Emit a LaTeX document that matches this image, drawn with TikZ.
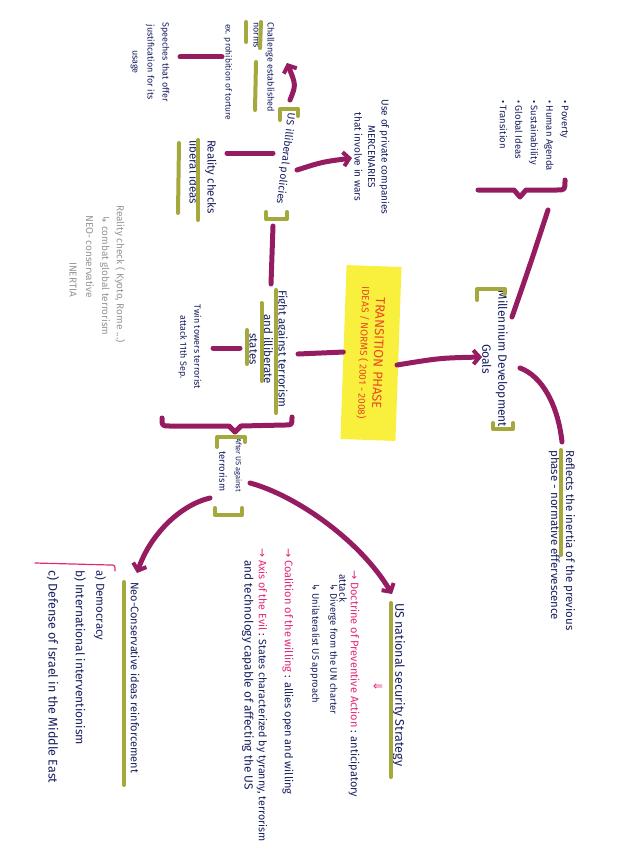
\documentclass[tikz,border=0pt]{standalone}
\usepackage{fontspec}
\setmainfont{Fira Sans}
\newfontfamily\symf{DejaVu Sans}
\usetikzlibrary{arrows.meta}
\definecolor{mkc}{RGB}{150,28,98}
\definecolor{grc}{RGB}{165,168,60}
\definecolor{navy}{RGB}{24,32,95}
\definecolor{redc}{RGB}{232,72,40}
\definecolor{pinkc}{RGB}{226,40,120}
\definecolor{yelc}{RGB}{248,240,60}
\definecolor{grayc}{RGB}{150,150,150}
\newcommand\hwsize[2]{\fontsize{#1}{#2}\selectfont}
\begin{document}
\begin{tikzpicture}[x=1pt,y=-1pt,
  hw/.style={inner sep=0pt, text=navy},
  txt/.style={hw, rotate=-90},
  mk/.style={draw=mkc, line width=5pt, line cap=round, line join=round},
  gr/.style={draw=grc, line width=4pt, line cap=round, line join=round},
  arr/.style={mk, -{Straight Barb[length=6pt,width=14pt,line width=4pt]}},
  thinpink/.style={draw=pinkc, line width=1.2pt, line cap=round}]
\useasboundingbox (0,0) rectangle (622,848);
\fill[white] (0,0) rectangle (622,848);

% ---------- top-left group ----------
\node[txt, anchor=west, align=left, font={\hwsize{9}{14}}] (chal) at (264,22) {Challenge established\\norms};
\node[txt, anchor=west, font={\hwsize{8.5}{8.5}}] (tort) at (228,24) {ex. prohibition of torture};
\node[txt, anchor=west, align=center, font={\hwsize{9}{15}}] (speech) at (150,22) {Speeches that offer\\justification for its\\usage};
\node[hw, rotate=-97, anchor=west, font={\hwsize{10.5}{10.5}}] (illib) at (291,113) {US illiberal policies};
\node[txt, anchor=west, align=left, font={\hwsize{11.5}{18}}] (real) at (203,140) {Reality checks\\liberal ideas};
\node[txt, anchor=center, align=center, font={\hwsize{10}{13.5}}] (priv) at (372,157) {Use of private companies\\MERCENARIES\\that involve in wars};

\draw[gr] (261,22) -- (260,48);
\draw[gr] (256,62) -- (255,110);
\draw[gr] (246,22) -- (246,42);
\draw[gr] (280,120) -- (280,109) -- (298,109) -- (298,116);
\draw[gr] (266,212) -- (266,219) -- (287,219) -- (287,212);
\draw[gr] (198,140) -- (198,220);
\draw[gr] (179,143) -- (178,213);

\coordinate (d1a) at (180,57); \coordinate (d1b) at (222,57);
\draw[mk] (d1a) -- (d1b);
\coordinate (a1s) at (290,100); \coordinate (a1e) at (287,63);
\draw[arr] (a1s) .. controls (296,85) .. (a1e);
\coordinate (d2a) at (227,153); \coordinate (d2b) at (273,153);
\draw[mk] (d2a) -- (d2b);
\coordinate (a2s) at (297,170); \coordinate (a2e) at (352,158);
\draw[arr] (a2s) .. controls (322,162) .. (a2e);

% ---------- centre ----------
\node[txt, anchor=center, align=center, font={\hwsize{11.5}{14.5}}] (fight) at (268.5,349) {Fight against terrorism\\and illiberate\\states};
\node[txt, anchor=center, align=center, font={\hwsize{9}{14}}] (twin) at (190,347) {Twin towers terrorist\\attack 11th Sep.};
\draw[gr] (276,290) -- (276,413);
\draw[gr] (261.5,303) -- (261.5,381);
\draw[gr] (247,330) -- (247,364);
\coordinate (l3a) at (273,226); \coordinate (l3b) at (271,284);
\draw[mk] (l3a) -- (l3b);
\coordinate (d3a) at (213,348); \coordinate (d3b) at (240,348);
\draw[mk] (d3a) -- (d3b);

\node[rotate=-92, fill=yelc, minimum width=174pt, minimum height=55pt, inner sep=0pt, align=center, text=redc, font={\hwsize{10}{14}}] (box) at (371,353) {{\hwsize{13}{14}TRANSITION PHASE}\\IDEAS / NORMS ( 2001 - 2008)};
\coordinate (l4a) at (298,354);
\draw[mk] (l4a) -- (box.south);
\coordinate (a3s) at (397,365); \coordinate (a3e) at (482,357);
\draw[arr] (a3s) .. controls (440,358) .. (a3e);

% ---------- right ----------
\node[txt, anchor=center, align=center, font={\hwsize{12}{16}}] (mdg) at (495,359) {Millennium Development\\Goals};
\draw[gr] (477,300) -- (477,289) -- (505,289) -- (505,294);
\draw[gr] (493,423) -- (493,429) -- (513,429) -- (513,423);
\node[txt, anchor=west, align=left, font={\hwsize{9.5}{15.5}}] (list) at (534,100) {• Poverty\\• Human Agenda\\• Sustainability\\• Global Ideas\\• Transition};
\coordinate (l5a) at (512,317); \coordinate (l5b) at (548,210);
\draw[mk] (l5a) .. controls (530,265) .. (l5b);
\draw[mk] (478,190) -- (514,190) -- (520,197) -- (526,190) -- (557,190) .. controls (565,190) .. (565,180);
\coordinate (c6a) at (520,368); \coordinate (c6b) at (562,442);
\draw[mk] (c6a) .. controls (542,376) and (558,405) .. (c6b);
\node[txt, anchor=west, align=left, font={\hwsize{11.5}{15}}] (refl) at (562,450) {Reflects the inertia of the previous\\phase - normative effervescence};
\draw[gr] (561,450) -- (561,555);

% ---------- after ----------
\draw[mk] (162,418) .. controls (162,426) .. (170,426) -- (229,426) -- (235,432) -- (241,426) -- (285,425) .. controls (292,425) .. (292,417);
\node[txt, anchor=west, font={\hwsize{7.5}{7.5}}] (after) at (238,438) {After US against};
\node[txt, anchor=west, font={\hwsize{9.5}{9.5}}] (after2) at (223,451) {terrorism};
\draw[gr] (217,447) -- (217,437) -- (245,437) -- (245,442);
\draw[gr] (215,508) -- (215,515) -- (242,515) -- (242,508);

\coordinate (aLs) at (210,498); \coordinate (aLe) at (137,573);
\draw[arr] (aLs) .. controls (180,505) and (150,535) .. (aLe);
\coordinate (aRs) at (250,483); \coordinate (aRe) at (392,594);
\draw[arr] (aRs) .. controls (295,495) and (360,540) .. (aRe);

% ---------- bottom right ----------
\node[txt, anchor=west, font={\hwsize{12.5}{12.5}}] (nss) at (399,603) {US national security Strategy};
\draw[gr] (391,603) -- (391,777);
\node[txt, anchor=center, text=pinkc, font={\symf\hwsize{12}{12}}] (dd) at (378,687) {⇓};
\node[txt, anchor=west, font={\hwsize{11}{11}}] (doc) at (354,570) {\textcolor{pinkc}{{\symf→} Doctrine of Preventive Action} : anticipatory};
\node[txt, anchor=west, font={\hwsize{10}{10}}] (doc2) at (343,574) {attack};
\node[txt, anchor=west, font={\hwsize{9.5}{9.5}}] (div) at (333,583) {{\symf↳} Diverge from the UN charter};
\node[txt, anchor=west, font={\hwsize{9.5}{9.5}}] (uni) at (315,583) {{\symf↳} Unilateralist US approach};
\node[txt, anchor=west, font={\hwsize{11}{11}}] (coal) at (288,548) {\textcolor{pinkc}{{\symf→} Coalition of the willing} : allies open and willing};
\node[txt, anchor=west, font={\hwsize{10.7}{10.7}}] (axis) at (262,548) {\textcolor{pinkc}{{\symf→} Axis of the Evil} : States characterized by tyranny, terrorism};
\node[txt, anchor=west, font={\hwsize{11.8}{11.8}}] (tech) at (248,560) {and technology capable of affecting the US};

% ---------- bottom left ----------
\node[txt, anchor=west, font={\hwsize{11}{11}}] (neo) at (135,582) {Neo-Conservative ideas reinforcement};
\draw[gr] (124,582) -- (124,785);
\draw[thinpink] (35,563) -- (110,565) .. controls (115,565) .. (115,571);
\node[txt, anchor=west, font={\hwsize{11.5}{11.5}}] (ia) at (100,570) {a) Democracy};
\node[txt, anchor=west, font={\hwsize{12}{12}}] (ib) at (80,570) {b) International interventionism};
\node[txt, anchor=west, font={\hwsize{12.5}{12.5}}] (ic) at (53,570) {c) Defense of Israel in the Middle East};

% ---------- grey note ----------
\node[txt, anchor=west, text=grayc, font={\hwsize{10}{10}}] (g1) at (120,205) {Reality check ( Kyoto, Rome ...)};
\node[txt, anchor=west, text=grayc, font={\hwsize{10}{10}}] (g2) at (105,215) {{\symf↳} combat global terrorism};
\node[txt, anchor=west, text=grayc, font={\hwsize{10}{10}}] (g3) at (90,215) {NEO- conservative};
\node[txt, anchor=west, text=grayc, font={\hwsize{10}{10}}] (g4) at (73,262) {INERTIA};
\end{tikzpicture}
\end{document}
